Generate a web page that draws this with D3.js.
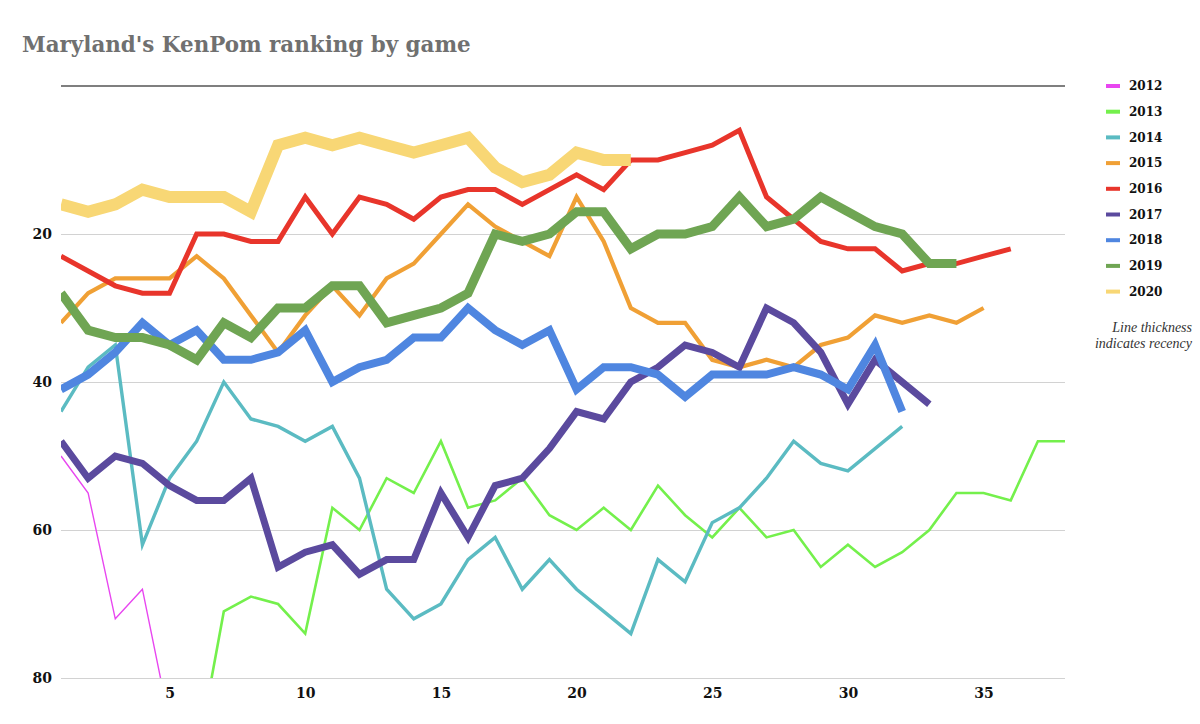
<!DOCTYPE html>
<html>
<head>
<meta charset="utf-8">
<script src="https://cdn.jsdelivr.net/npm/d3@7"></script>
<style>
  body { margin: 0; background: #fff; }
  #chart { width: 1200px; height: 724px; }
</style>
</head>
<body>
<div id="chart"></div>
<script>
// KenPom rank after each game, index 0 = game 1 (null = not shown)
const seasons = ['2012', '2013', '2014', '2015', '2016', '2017', '2018', '2019', '2020'];

const rank2012 = [50, 55, 72, 68, 86];
const rank2013 = [null, null, null, null, null, 91, 71, 69, 70, 74, 57, 60, 53, 55, 48, 57, 56, 53, 58, 60,
  57, 60, 54, 58, 61, 57, 61, 60, 65, 62, 65, 63, 60, 55, 55, 56, 48, 48];
const rank2014 = [44, 38, 35, 62, 53, 48, 40, 45, 46, 48, 46, 53, 68, 72, 70, 64, 61, 68, 64, 68,
  71, 74, 64, 67, 59, 57, 53, 48, 51, 52, 49, 46];
const rank2015 = [32, 28, 26, 26, 26, 23, 26, 31, 36, 31, 27, 31, 26, 24, 20, 16, 19, 21, 23, 15,
  21, 30, 32, 32, 37, 38, 37, 38, 35, 34, 31, 32, 31, 32, 30];
const rank2016 = [23, 25, 27, 28, 28, 20, 20, 21, 21, 15, 20, 15, 16, 18, 15, 14, 14, 16, 14, 12,
  14, 10, 10, 9, 8, 6, 15, 18, 21, 22, 22, 25, 24, 24, 23, 22];
const rank2017 = [48, 53, 50, 51, 54, 56, 56, 53, 65, 63, 62, 66, 64, 64, 55, 61, 54, 53, 49, 44,
  45, 40, 38, 35, 36, 38, 30, 32, 36, 43, 37, 40, 43];
const rank2018 = [41, 39, 36, 32, 35, 33, 37, 37, 36, 33, 40, 38, 37, 34, 34, 30, 33, 35, 33, 41,
  38, 38, 39, 42, 39, 39, 39, 38, 39, 41, 35, 44];
const rank2019 = [28, 33, 34, 34, 35, 37, 32, 34, 30, 30, 27, 27, 32, 31, 30, 28, 20, 21, 20, 17,
  17, 22, 20, 20, 19, 15, 19, 18, 15, 17, 19, 20, 24, 24];
const rank2020 = [16, 17, 16, 14, 15, 15, 15, 17, 8, 7, 8, 7, 8, 9, 8, 7, 11, 13, 12, 9,
  10, 10];

const ranks = [rank2012, rank2013, rank2014, rank2015, rank2016, rank2017, rank2018, rank2019, rank2020];

const yTicks = [20, 40, 60, 80];
const xTicks = [5, 10, 15, 20, 25, 30, 35];

// styling per season: newer = thicker
const colors = ['#e846f0', '#74f04c', '#5bbbc2', '#f0a035', '#e8352b', '#5b4a9e', '#4f86e0', '#6fa553', '#f8d775'];
const widths = [1.4, 2.6, 3.4, 4.2, 5, 7, 8, 9, 12];

// Set up the chart dimensions
const margin = { top: 86, right: 135, bottom: 46, left: 61 };
const width = 1200 - margin.left - margin.right;
const height = 724 - margin.top - margin.bottom;
const serif = "'DejaVu Serif', 'Liberation Serif', serif";

const svg = d3.select('#chart')
  .append('svg')
  .attr('width', 1200)
  .attr('height', 724);

// Title, scaled to the width it takes in the original
const title = svg.append('text')
  .attr('x', 22)
  .attr('y', 52)
  .attr('font-family', serif)
  .attr('font-weight', 'bold')
  .attr('font-size', 22)
  .attr('fill', '#707070')
  .text("Maryland's KenPom ranking by game");
const tw = title.node().getComputedTextLength();
title.attr('font-size', 22 * 449 / tw);

const g = svg.append('g')
  .attr('transform', `translate(${margin.left},${margin.top})`);

// Create the scales (rank 1 at the top)
const x = d3.scaleLinear().domain([1, 38]).range([0, width]);
const y = d3.scaleLinear().domain([0, 80]).range([0, height]);

// Gridlines + y labels
const yAxis = g.append('g')
  .call(d3.axisLeft(y).tickValues(yTicks).tickSize(-width).tickPadding(9));
yAxis.select('.domain').remove();
yAxis.selectAll('.tick line').attr('stroke', '#d2d2d2').attr('stroke-width', 1.2);
yAxis.selectAll('.tick text')
  .attr('font-family', serif)
  .attr('font-weight', 'bold')
  .attr('font-size', 14)
  .attr('fill', '#111');

// dark rule along the top
g.append('line')
  .attr('x1', 0)
  .attr('x2', width)
  .attr('y1', y(0))
  .attr('y2', y(0))
  .attr('stroke', '#555')
  .attr('stroke-width', 1.5);

const xAxis = g.append('g')
  .attr('transform', `translate(0,${height})`)
  .call(d3.axisBottom(x).tickValues(xTicks).tickSize(0).tickPadding(10));
xAxis.select('.domain').remove();
xAxis.selectAll('.tick text')
  .attr('font-family', serif)
  .attr('font-weight', 'bold')
  .attr('font-size', 14)
  .attr('fill', '#111');

// Clip lines to the plot area
g.append('clipPath')
  .attr('id', 'plot-clip')
  .append('rect')
  .attr('x', 0)
  .attr('y', 0)
  .attr('width', width)
  .attr('height', height);

const line = d3.line()
  .defined(d => d != null)
  .x((d, i) => x(i + 1))
  .y(d => y(d));

g.append('g')
  .attr('clip-path', 'url(#plot-clip)')
  .selectAll('path')
  .data(ranks)
  .join('path')
  .attr('d', line)
  .attr('fill', 'none')
  .attr('stroke', (d, i) => colors[i])
  .attr('stroke-width', (d, i) => widths[i]);

// Legend
const legend = svg.append('g')
  .selectAll('g')
  .data(seasons)
  .join('g')
  .attr('transform', (d, i) => `translate(1106,${86 + i * 25.7})`);

legend.append('rect')
  .attr('x', 0)
  .attr('y', -2)
  .attr('width', 14)
  .attr('height', 4)
  .attr('fill', (d, i) => colors[i]);

legend.append('text')
  .attr('x', 23)
  .attr('dy', '0.35em')
  .attr('font-family', serif)
  .attr('font-weight', 'bold')
  .attr('font-size', 12)
  .attr('fill', '#111')
  .text(d => d);

// note under the legend
const note = svg.append('text')
  .attr('text-anchor', 'end')
  .attr('font-family', "'Liberation Serif', serif")
  .attr('font-style', 'italic')
  .attr('font-size', 14)
  .attr('fill', '#333');
note.append('tspan').attr('x', 1192).attr('y', 332).text('Line thickness');
note.append('tspan').attr('x', 1192).attr('y', 348).text('indicates recency');
</script>
</body>
</html>
